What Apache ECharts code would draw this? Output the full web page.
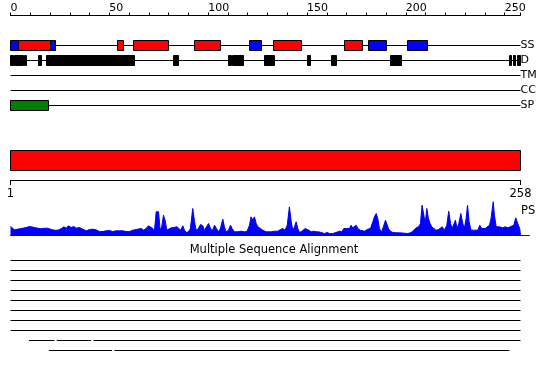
<!DOCTYPE html>
<html><head><meta charset="utf-8">
<script src="https://cdn.jsdelivr.net/npm/echarts@6/dist/echarts.min.js"></script>
<style>html,body{margin:0;padding:0;background:#fff}#c{width:550px;height:380px}</style>
</head><body><div id="c"></div>
<script>
// ---------------- data ----------------
const seqLength = 258;
const trackNames = ['SS', 'D', 'TM', 'CC', 'SP'];
const helix = [[4, 20], [54, 57], [62, 80], [93, 106], [133, 147], [169, 178]];
const strand = [[0, 4], [20, 23], [121, 127], [181, 190], [201, 211]];
const disorder = [[0, 1.5], [2, 4.5], [4.8, 6.6], [7.1, 8.1], [14.2, 15.7], [18.2, 62.7], [82.5, 85],
  [110.3, 111.6], [112.2, 117.8], [128.5, 133.5], [150.2, 151.7], [162.4, 164.9], [192.2, 197.8],
  [252.4, 253.4], [254.4, 255.4], [256.4, 258]];
const transmembrane = [];
const coiledCoil = [];
const signalPeptide = [[0, 19.4]];
const domains = [[1, 258]];
const bottomTicks = [1, 258];
const psLabel = 'PS';
const alignmentTitle = 'Multiple Sequence Alignment';
const psPositions = [0,1,2,2.9,4.6,6.2,7.9,9.6,10.5,12.1,13.8,15.5,17.2,18.9,20.6,22.3,23.9,25.6,27,28.2,29.3,30.7,32,33.2,34.9,36.6,38.3,40,41.6,43.3,45,46.7,48.4,50.1,51.7,53.5,55.1,56.8,58.5,60.2,61.9,63.6,
  64.4,66.1,67.4,68.6,69.8,70.8,72,72.8,73.7,74.9,75.7,76.5,77.4,78.2,79.1,80.1,81.3,82.4,83.3,84.3,85.1,86,87.2,88,88.9,90,91,92.2,93.1,93.9,95.1,96.1,97.3,98.1,99,100.2,101.2,102.3,103.2,104.2,105.2,106.2,107.4,108.2,109.1,110.3,111.3,112.1,113.3,115,116.7,118.4,119.7,120.9,121.7,122.6,123.4,124.3,125.1,126.5,127.6,129.3,
  130.2,131.9,133.5,135.2,136.6,137.7,138.9,140,141.1,142,142.8,143.7,144.5,145.3,146.2,147.4,148.4,149.1,150.1,150.9,152.1,153.4,154.6,155.8,157.2,158.8,160.2,161.4,163,164.7,166.4,167.6,168.6,169.8,170.6,171.5,172.3,173.1,174,174.9,175.7,176.9,177.9,179.1,180.7,182.1,183.3,184.1,185,185.8,186.6,187.8,188.8,189.7,190.5,191.2,192.2,193.4,195.1,196.8,
  197.6,199.3,201,202.7,204,205.2,206.4,207.4,208.2,209.1,209.8,210.6,211.4,212.3,213.1,214.1,215.3,216.5,217.5,218.4,219.5,220.7,221.7,222.6,223.4,224.2,225.1,225.9,226.8,227.8,228.8,229.6,230.5,231.2,232,233,234.2,235.2,236.4,237.4,238.4,239.3,240.1,241.1,242.3,243.1,244.2,244.8,245.7,246.5,247.3,248.2,249,250.2,251.6,252.8,253.8,254.6,255.6,256.6,257.6,258];
const psScores = [9,7.3,5.7,7.3,6.7,7.3,8,9,9.7,8,7.3,6.7,7.3,7.3,6,5.3,5.3,6.7,8.7,7.3,9.7,8,9,7.3,8,6.3,4.7,6,6.3,5.7,4,4,4.7,5,4,4.7,4.7,4.7,4,4,5.3,6,
  5,7,5.3,7,9.7,10.3,7,4.3,23.7,23.7,5.3,8.7,20.3,15.3,5.3,7,7.7,8,7,8.7,7,5.3,9.7,5.3,3,3.7,7,27,13.7,5.3,7,11,9.7,5.3,7,12,7,5.3,10.3,7,3.7,7,16.3,8.7,3.7,5.3,10.3,7,3.7,3.7,4.3,3.7,4.3,10.3,18.7,15.3,18.7,12,8.7,7,5.3,3.7,
  3,3.7,4.3,4.3,6,7,5.3,10.3,28.7,13.7,5.3,8.7,13.7,7,3,4.3,6.3,7,7,5.3,3.7,4.3,3.7,3.7,3,2,3,2,2,3,4.3,3.7,7,7,8.7,7,10.3,7.7,9.7,10.3,7,5.3,7,4.3,6.3,7,13.7,18.7,22,17,7,3.7,4.3,15.3,17,7,4.3,3,2.7,2.7,
  1.7,2.3,2,3,5.3,7.7,8.7,12,30.3,20.3,12,27,17,12,8.7,7,5.3,6,7,8.7,5.3,10.3,24.3,12,7,8.7,15.3,7,12,22,12,7,17,30.3,13.7,5.3,5.3,7,5.3,10.3,7,8.7,7,7,10.3,17,33.7,20.3,8.7,7,8.7,7,7.7,8.7,7.7,8.7,7,10.3,17.7,12,7,0];
const alignmentRows = [
  [[0, 258]], [[0, 258]], [[0, 258]], [[0, 258]], [[0, 258]], [[0, 258]], [[0, 258]], [[0, 258]],
  [[9.3, 22.3], [23.4, 40.8], [42, 258]],
  [[19.4, 51.4], [52.6, 252.4]]
];

// ---------------- rendering ----------------
const FONT = 'DejaVu Sans';
const chart = echarts.init(document.getElementById('c'), null, { renderer: 'canvas' });

const half = v => Math.round(v - 0.5) + 0.5;
function segRender(params, api) {
  const a = api.coord([api.value(0), api.value(2)]);
  const b = api.coord([api.value(1), api.value(2)]);
  const y = half(a[1]);
  return { type: 'line', shape: { x1: a[0], y1: y, x2: b[0], y2: y }, style: { stroke: '#000', lineWidth: 1 } };
}
function boxRender(fill, h) {
  return function (params, api) {
    const a = api.coord([api.value(0), api.value(2)]);
    const b = api.coord([api.value(1), api.value(2)]);
    const x1 = half(a[0]), x2 = half(b[0]), y = half(a[1]);
    return { type: 'rect', shape: { x: x1, y: y - h, width: Math.max(x2 - x1, 1), height: 2 * h },
      style: { fill: fill, stroke: '#000', lineWidth: 1 } };
  };
}
const rowOf = name => trackNames.indexOf(name) + 2;
const toRow = (arr, name) => arr.map(s => [s[0], s[1], rowOf(name)]);

const option = {
  animation: false,
  backgroundColor: '#fff',
  textStyle: { fontFamily: FONT },
  grid: [
    { left: 10.5, width: 510, top: 15.5, height: 105 },
    { left: 10.5, width: 510, top: 150, height: 30 },
    { left: 10.5, width: 519, top: 195.5, height: 40 },
    { left: 10.5, width: 510, top: 250.5, height: 110 }
  ],
  xAxis: [
    { gridIndex: 0, type: 'value', min: 0, max: seqLength, interval: 10, position: 'top',
      axisLine: { lineStyle: { color: '#000', width: 1 } },
      axisTick: { length: 3, lineStyle: { color: '#000' } },
      axisLabel: { color: '#000', fontSize: 11, fontFamily: FONT, align: 'left', margin: 2,
        formatter: v => (v % 50 === 0 ? String(v) : '') },
      splitLine: { show: false } },
    { gridIndex: 1, type: 'value', min: 1, max: seqLength, position: 'bottom',
      axisLine: { lineStyle: { color: '#000', width: 1 } },
      axisTick: { customValues: bottomTicks, length: 5, lineStyle: { color: '#000' } },
      axisLabel: { customValues: bottomTicks, color: '#000', fontSize: 11.5, fontFamily: FONT, margin: 8 },
      splitLine: { show: false } },
    { gridIndex: 2, type: 'value', min: 0, max: seqLength * 519 / 510,
      axisLine: { show: true, lineStyle: { color: '#0000ff', width: 1 } },
      axisTick: { show: false }, axisLabel: { show: false }, splitLine: { show: false } },
    { gridIndex: 3, type: 'value', min: 0, max: seqLength, show: false }
  ],
  yAxis: [
    { gridIndex: 0, type: 'value', min: 0, max: 7, interval: 1, inverse: true, position: 'right',
      axisLine: { show: false }, axisTick: { show: false }, splitLine: { show: false },
      axisLabel: { color: '#000', fontSize: 11, fontFamily: FONT, margin: 0,
        formatter: v => trackNames[v - 2] || '' } },
    { gridIndex: 1, type: 'value', min: 0, max: 1, show: false },
    { gridIndex: 2, type: 'value', min: 0, max: 40, show: false },
    { gridIndex: 3, type: 'value', min: 0, max: 11, inverse: true, show: false }
  ],
  graphic: [
    { type: 'text', left: 521, top: 205, style: { text: psLabel, font: '11.5px ' + FONT, fill: '#000' } },
    { type: 'text', x: 274, y: 250.5, style: { text: alignmentTitle, font: '11.5px ' + FONT, fill: '#000',
      textAlign: 'center', textVerticalAlign: 'middle' } }
  ],
  series: [
    { type: 'custom', name: 'tracks', xAxisIndex: 0, yAxisIndex: 0, renderItem: segRender,
      data: trackNames.map(n => [0, seqLength, rowOf(n)]), encode: { x: [0, 1], y: 2 }, silent: true },
    { type: 'custom', name: 'helix', xAxisIndex: 0, yAxisIndex: 0, renderItem: boxRender('#ff0000', 5),
      data: toRow(helix, 'SS'), encode: { x: [0, 1], y: 2 } },
    { type: 'custom', name: 'strand', xAxisIndex: 0, yAxisIndex: 0, renderItem: boxRender('#0000ff', 5),
      data: toRow(strand, 'SS'), encode: { x: [0, 1], y: 2 } },
    { type: 'custom', name: 'disorder', xAxisIndex: 0, yAxisIndex: 0, renderItem: boxRender('#000000', 5),
      data: toRow(disorder, 'D'), encode: { x: [0, 1], y: 2 } },
    { type: 'custom', name: 'tm', xAxisIndex: 0, yAxisIndex: 0, renderItem: boxRender('#ffff00', 5),
      data: toRow(transmembrane, 'TM'), encode: { x: [0, 1], y: 2 } },
    { type: 'custom', name: 'cc', xAxisIndex: 0, yAxisIndex: 0, renderItem: boxRender('#00ffff', 5),
      data: toRow(coiledCoil, 'CC'), encode: { x: [0, 1], y: 2 } },
    { type: 'custom', name: 'sp', xAxisIndex: 0, yAxisIndex: 0, renderItem: boxRender('#008000', 5),
      data: toRow(signalPeptide, 'SP'), encode: { x: [0, 1], y: 2 } },
    { type: 'custom', name: 'domain', xAxisIndex: 1, yAxisIndex: 1,
      renderItem: function (params, api) {
        const a = api.coord([api.value(0), 1]);
        const b = api.coord([api.value(1), 1]);
        const x1 = half(a[0]), x2 = half(b[0]), y = half(a[1]);
        return { type: 'rect', shape: { x: x1, y: y, width: x2 - x1, height: 20 },
          style: { fill: '#ff0000', stroke: '#000', lineWidth: 1 } };
      },
      data: domains, encode: { x: [0, 1] } },
    { type: 'line', name: 'PS', xAxisIndex: 2, yAxisIndex: 2, showSymbol: false, symbol: 'none',
      data: psPositions.map((p, i) => [p, psScores[i]]),
      lineStyle: { color: '#0000ff', width: 1 }, itemStyle: { color: '#0000ff' },
      areaStyle: { color: '#0000ff', opacity: 1 } },
    { type: 'custom', name: 'alignment', xAxisIndex: 3, yAxisIndex: 3, renderItem: segRender,
      data: alignmentRows.flatMap((segs, r) => segs.map(s => [s[0], s[1], r + 1])),
      encode: { x: [0, 1], y: 2 } }
  ]
};
chart.setOption(option);
</script>
</body></html>
